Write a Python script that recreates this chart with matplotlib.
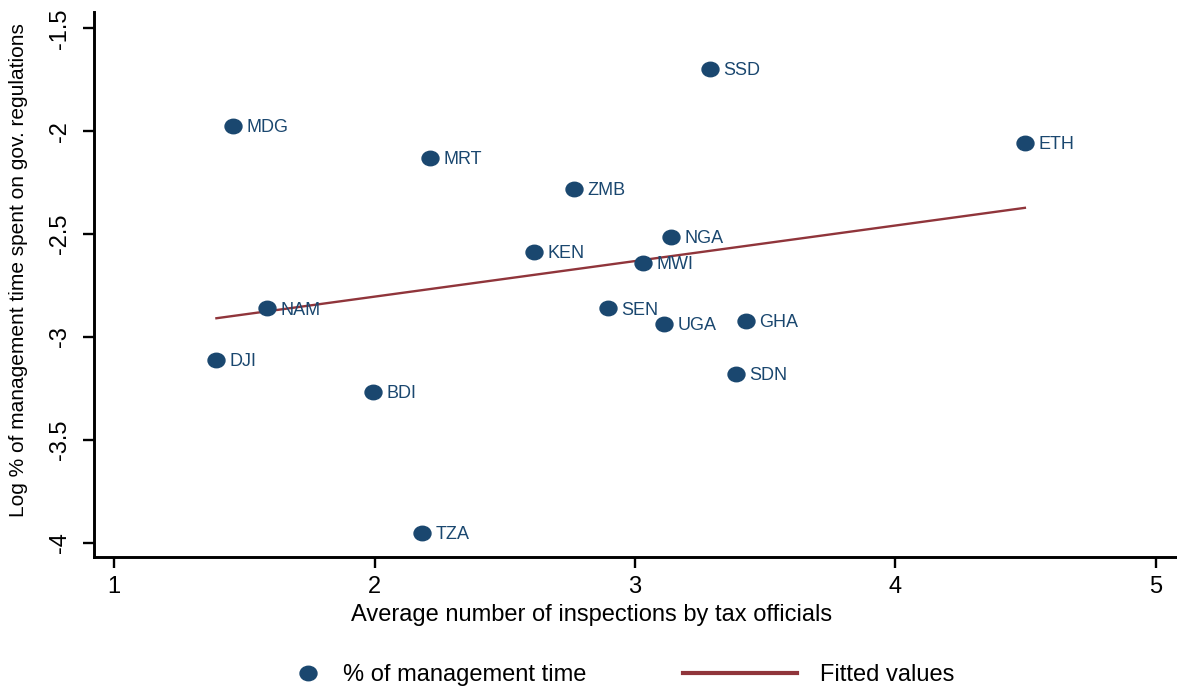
import matplotlib
matplotlib.use('Agg')
import matplotlib.pyplot as plt
import numpy as np
from matplotlib.path import Path
from matplotlib.transforms import Affine2D
from matplotlib.ticker import FuncFormatter
from matplotlib.lines import Line2D

matplotlib.rcParams.update({'font.family': ['Liberation Sans', 'DejaVu Sans'],
                            'axes.unicode_minus': False})

# country codes, inspections by tax officials, log share of management time
countries = ['SSD', 'MDG', 'ETH', 'MRT', 'ZMB', 'NGA', 'KEN', 'MWI',
             'NAM', 'SEN', 'UGA', 'GHA', 'DJI', 'SDN', 'BDI', 'TZA']
inspections = [3.288, 1.456, 4.497, 2.213, 2.767, 3.138, 2.613, 3.032,
               1.588, 2.898, 3.113, 3.426, 1.393, 3.389, 1.994, 2.184]
log_mgmt_time = [-1.698, -1.975, -2.056, -2.129, -2.280, -2.513, -2.586, -2.640,
                 -2.861, -2.861, -2.938, -2.923, -3.113, -3.181, -3.267, -3.952]

x_ticks = [1, 2, 3, 4, 5]
y_ticks = [-4, -3.5, -3, -2.5, -2, -1.5]

navy = '#1a476f'
maroon = '#90353b'

def stata_num(v, pos):
    return '%g' % v

# slightly wide ellipse marker
ellipse = Path.unit_circle().transformed(Affine2D().scale(1.17, 1.0))

W, H = 1177, 686
fig = plt.figure(figsize=(W / 100.0, H / 100.0), dpi=100)
ax = fig.add_axes([94.0 / W, (H - 557.0) / H, (W - 94.0) / W, (557.0 - 12.0) / H])

x = np.array(inspections)
y = np.array(log_mgmt_time)

ax.plot(x, y, linestyle='none', marker=ellipse, ms=12.2, color=navy, zorder=3)
for c, xi, yi in zip(countries, inspections, log_mgmt_time):
    ax.annotate(c, (xi, yi), xytext=(9.5, -4.6), textcoords='offset points',
                ha='left', va='baseline', fontsize=13, color=navy, zorder=4)

# linear fit
b, a = np.polyfit(x, y, 1)
xf = np.array([x.min(), x.max()])
ax.plot(xf, a + b * xf, color=maroon, lw=1.7, zorder=2)

ax.set_xlim(0.923, 5.081)
ax.set_ylim(-4.070, -1.421)
ax.set_xticks(x_ticks)
ax.set_yticks(y_ticks)
ax.xaxis.set_major_formatter(FuncFormatter(stata_num))
ax.yaxis.set_major_formatter(FuncFormatter(stata_num))

for s in ['top', 'right']:
    ax.spines[s].set_visible(False)
for s in ['left', 'bottom']:
    ax.spines[s].set_linewidth(2.1)
ax.tick_params(axis='both', direction='out', length=8, width=1.7, labelsize=17)
ax.tick_params(axis='x', pad=6)
ax.tick_params(axis='y', pad=8.5, labelrotation=90)
for lab in ax.get_yticklabels():
    lab.set_va('center')

ax.set_xlabel('Average number of inspections by tax officials', fontsize=17)
ax.xaxis.set_label_coords(0.4594, -0.087)
ax.set_ylabel('Log % of management time spent on gov. regulations', fontsize=15)
ax.yaxis.set_label_coords(-0.061, 0.527)

# legend entries laid out separately (different handle widths)
h1 = Line2D([], [], linestyle='none', marker=ellipse, ms=12.2, color=navy)
h2 = Line2D([], [], color=maroon, lw=3.0)
leg1 = fig.legend(handles=[h1], labels=['% of management time'], loc='center left',
                  bbox_to_anchor=(294.0 / W, (H - 675.0) / H), frameon=False,
                  fontsize=17, handlelength=1.17, handletextpad=0.91,
                  borderpad=0, borderaxespad=0)
leg2 = fig.legend(handles=[h2], labels=['Fitted values'], loc='center left',
                  bbox_to_anchor=(683.0 / W, (H - 675.0) / H), frameon=False,
                  fontsize=17, handlelength=4.83, handletextpad=0.97,
                  borderpad=0, borderaxespad=0)

fig.savefig('out.png', dpi=100)
